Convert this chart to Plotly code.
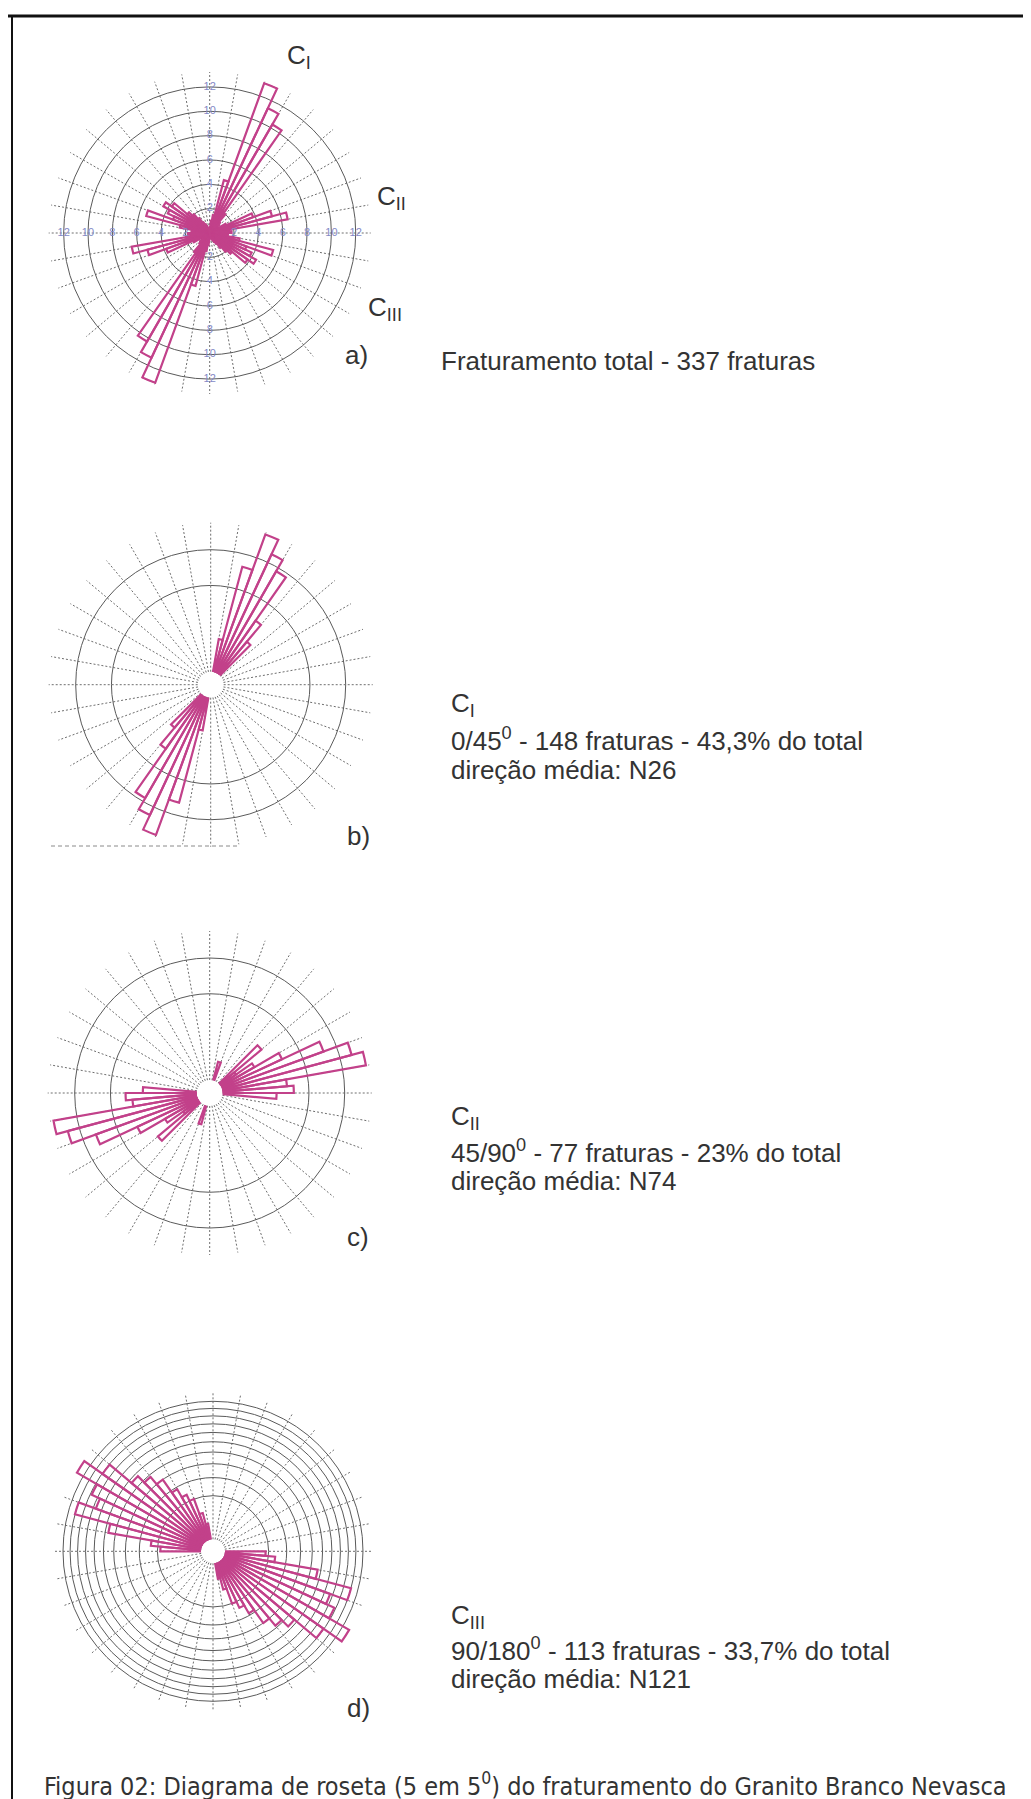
import numpy as np
import plotly.graph_objects as go

W, H = 1031, 1799

# ---------------- data (percent of fractures per 5-degree class) ----------------
a_bin_start = list(range(0, 180, 5))
a_pct = [0.5, 1.0, 1.5, 4.5, 13.1, 11.3, 10.3, 2.0, 1.2,
         1.0, 0.5, 0.8, 1.5, 3.8, 5.3, 6.5, 1.6, 1.8,
         1.1, 1.5, 2.5, 5.4, 3.2, 3.8, 4.4, 3.8, 2.4,
         2.0, 1.5, 1.0, 0.8, 0.6, 0.4, 0.3, 0.2, 0.2]
a_rings = [2, 4, 6, 8, 10, 12]

b_bin_start = [10, 15, 20, 25, 30, 35, 40]
b_pct = [1.5, 16.0, 29.0, 23.0, 18.7, 5.7, 2.5]
b_rings = [10, 20]

c_bin_start = [15, 45, 50, 55, 60, 65, 70, 75, 80, 85, 90]
c_pct = [0.5, 4.0, 0.5, 2.0, 6.0, 15.7, 24.1, 28.5, 5.6, 6.8, 3.9]
c_rings = [10, 20]

d_bin_start = [90, 95, 100, 105, 110, 115, 120, 125, 130, 135, 140, 145, 150, 155, 160, 165]
d_pct = [1.3, 2.0, 7.0, 13.5, 10.0, 11.7, 16.6, 11.9, 7.0, 5.7, 4.5, 2.8, 2.0, 1.5, 0.6, 0.2]
d_rings = [1.5, 3.0, 4.5, 6.0, 7.5, 9.0, 10.5, 12.0, 13.5, 15.0]

# ---------------- styling ----------------
BAR_COLOR = "#c2418a"
RING_COLOR = "#5a5a5a"
SPOKE_COLOR = "#6e6e6e"
TEXT_COLOR = "#333333"
LABEL_BLUE = "#8389c6"
FONT = "Liberation Sans, Arial, Helvetica, sans-serif"
CAPTION_FONT = "DejaVu Sans Condensed, Liberation Sans Narrow, Arial Narrow, sans-serif"

fig = go.Figure()


def bidirectional(starts, vals, fn):
    th, rr = [], []
    for s, v in zip(starts, vals):
        if v <= 0:
            continue
        th += [s + 2.5, s + 182.5]
        rr += [fn(v), fn(v)]
    return th, rr


def add_rose(sub, starts, vals, fn):
    th, rr = bidirectional(starts, vals, fn)
    fig.add_trace(go.Barpolar(
        r=rr, theta=th, width=[5] * len(th),
        marker=dict(color="rgba(0,0,0,0)", line=dict(color=BAR_COLOR, width=2.2)),
        subplot=sub, showlegend=False, hoverinfo="skip"))


lin = lambda v: v
sq = lambda v: float(np.sqrt(v))

add_rose("polar", a_bin_start, a_pct, lin)
add_rose("polar2", b_bin_start, b_pct, sq)
add_rose("polar3", c_bin_start, c_pct, sq)
add_rose("polar4", d_bin_start, d_pct, sq)

# ring labels on diagram a (N, E, S, W axes)
lab_r, lab_t, lab_txt = [], [], []
for ang in [0, 90, 180, 270]:
    for v in a_rings:
        lab_r.append(v)
        lab_t.append(ang)
        lab_txt.append(str(v))
fig.add_trace(go.Scatterpolar(
    r=lab_r, theta=lab_t, text=lab_txt, mode="text",
    textfont=dict(color=LABEL_BLUE, size=11, family=FONT),
    subplot="polar", showlegend=False, hoverinfo="skip"))


def domain(cx, cy, R):
    return dict(x=[(cx - R) / W, (cx + R) / W], y=[1 - (cy + R) / H, 1 - (cy - R) / H])


def polar_layout(cx, cy, R, hole_px, rmax, tickvals, gw=1.3):
    return dict(
        domain=domain(cx, cy, R),
        hole=hole_px / R,
        bgcolor="rgba(0,0,0,0)",
        radialaxis=dict(range=[0, rmax], tickvals=tickvals, showticklabels=False,
                        ticks="", showline=False, gridcolor=RING_COLOR, gridwidth=gw),
        angularaxis=dict(rotation=90, direction="clockwise", dtick=10,
                         showticklabels=False, ticks="", showline=False,
                         gridcolor=SPOKE_COLOR, gridwidth=1, griddash="2px,2px"),
    )


fig.update_layout(
    width=W, height=H, autosize=False,
    margin=dict(l=0, r=0, t=0, b=0),
    paper_bgcolor="white", plot_bgcolor="white",
    polar=polar_layout(201.7, 225, 161, 0, 13.23, a_rings),
    polar2=polar_layout(202.7, 676.7, 162, 13, 5.462, [np.sqrt(v) for v in b_rings]),
    polar3=polar_layout(201.7, 1085, 162, 13, 5.462, [np.sqrt(v) for v in c_rings]),
    polar4=polar_layout(205, 1543.3, 160, 12, 4.154, [np.sqrt(v) for v in d_rings], gw=1.1),
)


def note(text, px, py, size=26, family=FONT, anchor="left"):
    fig.add_annotation(text=text, x=px / W, y=1 - py / H, xref="paper", yref="paper",
                       xanchor=anchor, yanchor="middle", showarrow=False,
                       font=dict(size=size, color=TEXT_COLOR, family=family))


note("C<sub>I</sub>", 277, 48)
note("C<sub>II</sub>", 367, 190)
note("C<sub>III</sub>", 358, 301)
note("a)", 335, 347)
note("Fraturamento total - 337 fraturas", 431, 353)

note("b)", 337, 828)
note("C<sub>I</sub>", 441, 697)
note("0/45<sup>0</sup> - 148 fraturas - 43,3% do total", 441, 731)
note("direção média: N26", 441, 762)

note("c)", 337, 1229)
note("C<sub>II</sub>", 441, 1109)
note("45/90<sup>0</sup> - 77 fraturas - 23% do total", 441, 1143)
note("direção média: N74", 441, 1173)

note("d)", 337, 1700)
note("C<sub>III</sub>", 441, 1608)
note("90/180<sup>0</sup> - 113 fraturas - 33,7% do total", 441, 1641)
note("direção média: N121", 441, 1671)

note("Figura 02: Diagrama de roseta (5 em 5<sup>0</sup>) do fraturamento do Granito Branco Nevasca",
     34, 1776, size=25, family=CAPTION_FONT)

# page frame (top and left edges of the scanned box) and scan dashed line
fig.add_shape(type="line", xref="paper", yref="paper", x0=0, x1=1, y0=1 - 8 / H, y1=1 - 8 / H,
              line=dict(color="#111111", width=3))
fig.add_shape(type="line", xref="paper", yref="paper", x0=4 / W, x1=4 / W, y0=0, y1=1 - 8 / H,
              line=dict(color="#111111", width=2))
fig.add_shape(type="line", xref="paper", yref="paper", x0=43 / W, x1=232 / W,
              y0=1 - 838 / H, y1=1 - 838 / H, line=dict(color="#8a8a8a", width=1, dash="4px,3px"))

fig.write_html("out.html")
